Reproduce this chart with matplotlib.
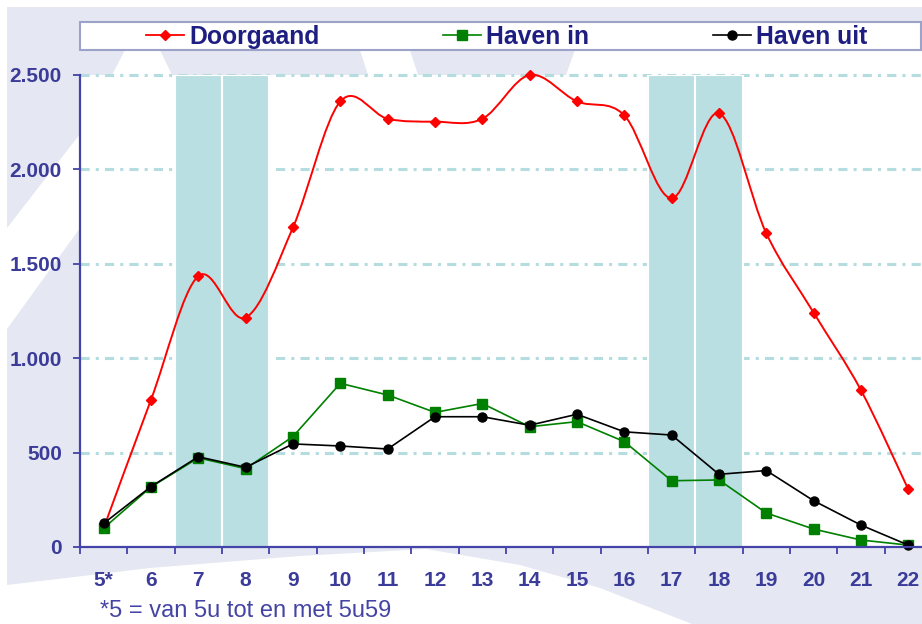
import matplotlib
matplotlib.use("Agg")
import matplotlib.pyplot as plt
import numpy as np
from matplotlib.path import Path
from matplotlib.patches import PathPatch, Polygon
from matplotlib.lines import Line2D
from matplotlib.ticker import FuncFormatter

plt.rcParams["font.family"] = ["Liberation Sans", "DejaVu Sans"]

# hours of the day (5* = 5u tot en met 5u59)
hours = ["5*", "6", "7", "8", "9", "10", "11", "12", "13", "14",
         "15", "16", "17", "18", "19", "20", "21", "22"]
doorgaand = [100, 780, 1435, 1215, 1693, 2360, 2268, 2253, 2268, 2500,
             2360, 2286, 1847, 2297, 1661, 1241, 830, 305]
haven_in = [100, 318, 472, 415, 585, 867, 805, 713, 760, 637,
            664, 558, 351, 355, 180, 95, 37, 10]
haven_uit = [125, 320, 478, 422, 546, 535, 519, 690, 690, 645,
             703, 610, 593, 385, 405, 245, 116, 10]
# rush hour bands (spits)
spits = [0, 0, 2500, 2500, 0, 0, 0, 0, 0, 0,
         0, 0, 2500, 2500, 0, 0, 0, 0]

navy = "#3b3b99"
W, H = 922, 624

fig = plt.figure(figsize=(W / 100, H / 100), dpi=100, facecolor="white")

# light watermark shapes in the background (pixel coords -> figure coords)
def fig_poly(pts, color="#e5e8f2", edge="none", lw=0, z=-2):
    xy = [(px / W, 1 - py / H) for px, py in pts]
    fig.patches.append(Polygon(xy, closed=True, transform=fig.transFigure,
                               facecolor=color, edgecolor=edge, lw=lw,
                               zorder=z))

fig_poly([(7, 7), (922, 7), (922, 22), (7, 22)])
fig_poly([(7, 22), (80, 22), (80, 134), (7, 228)])
fig_poly([(7, 329), (80, 228), (80, 569), (7, 583)])
fig_poly([(80, 50), (125, 50), (112, 75), (80, 75)])
fig_poly([(160, 50), (360, 50), (368, 75), (172, 75)])
fig_poly([(410, 50), (575, 50), (566, 75), (418, 75)])
fig_poly([(7, 547), (922, 547), (922, 624), (692, 624), (600, 588), (520, 565),
          (426, 549), (300, 556), (150, 568), (7, 585)])
# legend box
fig_poly([(80, 22), (921, 22), (921, 50), (80, 50)], color="white",
         edge="#9ca2c8", lw=1.5, z=-1)

x = np.arange(len(hours))

ax = fig.add_axes([80 / W, 77 / H, 852 / W, 472 / H])
ax.set_facecolor("white")
ax.set_xlim(-0.5, len(hours) - 0.5)
ax.set_ylim(0, 2500)

# grid lines
for g in [500, 1000, 1500, 2000, 2500]:
    ax.axhline(g, color="#b5dde0", lw=2.2, dashes=(3, 2, 1, 2), zorder=1,
               clip_on=False)

# rush hour bars
ax.bar(x, spits, width=1.0, color="#b9dfe2", edgecolor="white", lw=1.5,
       zorder=2)

# smoothed line for Doorgaand (Catmull-Rom -> cubic Bezier)
xs = x.astype(float)
ys = np.array(doorgaand, dtype=float)
verts = [(xs[0], ys[0])]
codes = [Path.MOVETO]
n = len(xs)
for i in range(n - 1):
    p0 = np.array([xs[max(i - 1, 0)], ys[max(i - 1, 0)]])
    p1 = np.array([xs[i], ys[i]])
    p2 = np.array([xs[i + 1], ys[i + 1]])
    p3 = np.array([xs[min(i + 2, n - 1)], ys[min(i + 2, n - 1)]])
    c1 = p1 + (p2 - p0) / 6
    c2 = p2 - (p3 - p1) / 6
    verts += [tuple(c1), tuple(c2), tuple(p2)]
    codes += [Path.CURVE4] * 3
ax.add_patch(PathPatch(Path(verts, codes), facecolor="none", edgecolor="red",
                       lw=1.4, zorder=3, clip_on=False))
ax.plot(x, doorgaand, ls="none", marker="D", ms=5.5, color="red", zorder=4,
        clip_on=False)

ax.plot(x, haven_in, color="#008000", lw=1.2, marker="s", ms=6.5, zorder=5)
ax.plot(x, haven_uit, color="black", lw=1.2, marker="o", ms=6.5, zorder=6,
        clip_on=False)

# axes styling
for s in ["top", "right"]:
    ax.spines[s].set_visible(False)
for s in ["left", "bottom"]:
    ax.spines[s].set_color("#4343a8")
    ax.spines[s].set_linewidth(1.6)
    ax.spines[s].set_zorder(7)

ax.set_yticks([0, 500, 1000, 1500, 2000, 2500])
ax.yaxis.set_major_formatter(FuncFormatter(lambda v, p: f"{int(v):,}".replace(",", ".")))
ax.tick_params(axis="y", direction="out", length=5, width=1.3, color="#4343a8",
               labelsize=15, labelcolor=navy, pad=8)

ax.set_xticks(np.arange(-0.5, len(hours), 1.0))
ax.set_xticklabels([])
ax.set_xticks(x, minor=True)
ax.set_xticklabels(hours, minor=True)
ax.tick_params(axis="x", which="major", direction="out", length=5, width=1.3,
               color="#4343a8")
ax.tick_params(axis="x", which="minor", length=0, labelsize=15,
               labelcolor=navy, pad=17)
for lab in ax.get_xticklabels(minor=True) + ax.get_yticklabels():
    lab.set_fontweight("bold")

# legend across the top
handles = [
    Line2D([], [], color="red", lw=1.3, marker="D", ms=5.5),
    Line2D([], [], color="#008000", lw=1.2, marker="s", ms=6.5),
    Line2D([], [], color="black", lw=1.2, marker="o", ms=6.5),
]
leg = fig.legend(handles, ["Doorgaand", "Haven in", "Haven uit"],
                 loc="center left", ncol=3,
                 bbox_to_anchor=(146 / W, 1 - 37 / H),
                 borderaxespad=0, borderpad=0, frameon=False,
                 handlelength=1.55, handletextpad=0.2, columnspacing=5.0,
                 prop={"weight": "bold", "size": 17.8})
for t in leg.get_texts():
    t.set_color("#1e1e82")

fig.text(100 / W, 1 - 611 / H, "*5 = van 5u tot en met 5u59", fontsize=17,
         color="#4444a4", va="center", ha="left")

fig.savefig("out.png", dpi=100, facecolor=fig.get_facecolor())
